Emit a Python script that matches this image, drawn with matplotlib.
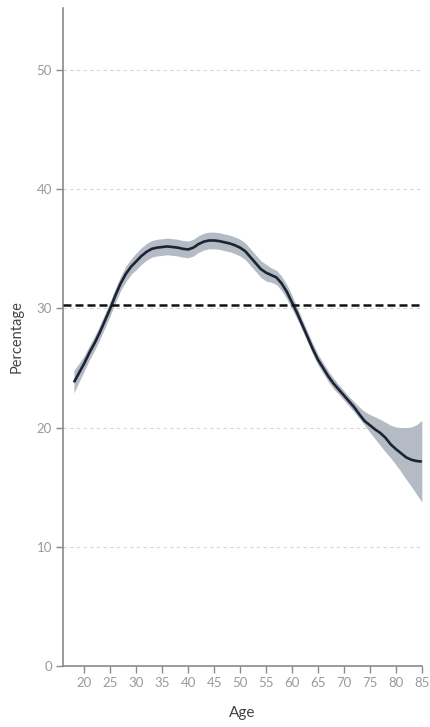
import numpy as np
import matplotlib.pyplot as plt

# smoothed share by age, with its confidence band
ages = list(range(18, 86))
mean_pct = [
    23.8, 24.6, 25.4, 26.3, 27.1, 28.0, 29.0, 30.0, 31.1, 32.1,
    32.9, 33.5, 33.95, 34.4, 34.75, 35.0, 35.1, 35.15, 35.2, 35.15,
    35.1, 35.0, 34.95, 35.1, 35.4, 35.6, 35.7, 35.7, 35.65, 35.55,
    35.45, 35.3, 35.1, 34.8, 34.3, 33.8, 33.3, 33.0, 32.8, 32.6,
    32.1, 31.4, 30.5, 29.6, 28.6, 27.6, 26.6, 25.7, 25.0, 24.3,
    23.7, 23.2, 22.7, 22.2, 21.7, 21.1, 20.55, 20.2, 19.85, 19.55,
    19.15, 18.6, 18.2, 17.85, 17.5, 17.3, 17.2, 17.15,
]
lower_pct = [
    22.9, 23.85, 24.75, 25.7, 26.5, 27.4, 28.4, 29.4, 30.5, 31.5,
    32.25, 32.85, 33.25, 33.7, 34.05, 34.3, 34.4, 34.45, 34.5, 34.45,
    34.4, 34.3, 34.25, 34.4, 34.7, 34.9, 35.0, 35.0, 34.95, 34.85,
    34.75, 34.6, 34.4, 34.1, 33.6, 33.1, 32.6, 32.3, 32.2, 32.0,
    31.5, 30.8, 29.95, 29.1, 28.15, 27.15, 26.15, 25.25, 24.55, 23.85,
    23.25, 22.8, 22.3, 21.8, 21.3, 20.75, 20.2, 19.6, 19.05, 18.5,
    17.95, 17.45, 16.9, 16.3, 15.65, 15.05, 14.4, 13.75,
]
upper_pct = [
    24.8, 25.4, 26.05, 26.9, 27.7, 28.6, 29.6, 30.6, 31.7, 32.7,
    33.55, 34.15, 34.65, 35.1, 35.45, 35.7, 35.8, 35.85, 35.9, 35.85,
    35.8, 35.7, 35.65, 35.8, 36.1, 36.3, 36.4, 36.4, 36.35, 36.25,
    36.15, 36.0, 35.8, 35.5, 35.0, 34.5, 34.0, 33.7, 33.4, 33.2,
    32.7, 32.0, 31.1, 30.1, 29.05, 28.05, 27.05, 26.15, 25.45, 24.75,
    24.15, 23.6, 23.1, 22.6, 22.15, 21.7, 21.35, 21.1, 20.9, 20.7,
    20.45, 20.2, 20.05, 20.0, 20.0, 20.05, 20.25, 20.6,
]
overall_pct = 30.3

x_ticks = list(range(20, 90, 5))
y_ticks = [0, 10, 20, 30, 40, 50]

plt.rcParams['font.family'] = ['Lato', 'DejaVu Sans']

fig = plt.figure(figsize=(4.3, 7.27), dpi=100)
ax = fig.add_axes([0.1465, 0.0839, 0.8345, 0.905])

ax.fill_between(ages, lower_pct, upper_pct, color='#b5bbc4', lw=0, zorder=2)
ax.plot(ages, mean_pct, color='#1b2433', lw=1.9, zorder=3,
        solid_capstyle='butt')
ax.axhline(overall_pct, color='#111111', lw=1.8, ls=(0, (3.2, 1.6)), zorder=4)

for y in y_ticks[1:]:
    ax.axhline(y, color='#d5d5d5', lw=0.8, ls=(0, (3, 3)), zorder=1)

ax.set_xlim(15.9, 85)
ax.set_ylim(0, 55.2)
ax.set_xticks(x_ticks)
ax.set_yticks(y_ticks)

for side in ['top', 'right']:
    ax.spines[side].set_visible(False)
for side in ['left', 'bottom']:
    ax.spines[side].set_color('#8a8a8a')
    ax.spines[side].set_linewidth(1.2)

ax.tick_params(colors='#8a8a8a', labelcolor='#9a9a9a', length=5, width=1,
               labelsize=9.5, pad=3)

ax.set_xlabel('Age', color='#444444', fontsize=11, labelpad=12)
ax.set_ylabel('Percentage', color='#444444', fontsize=10.5, labelpad=9)

fig.savefig('out.png', dpi=100)
